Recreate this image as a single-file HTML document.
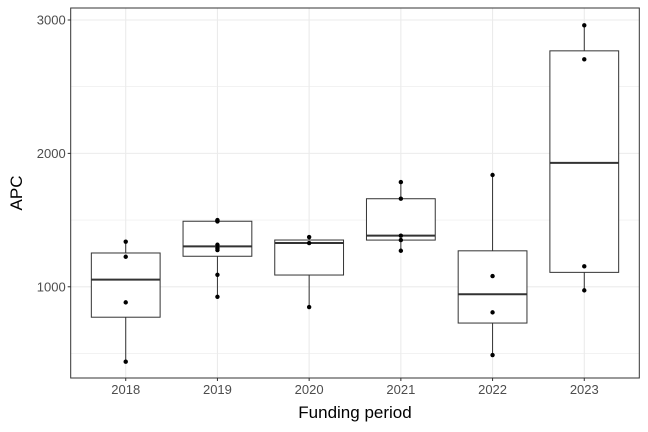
<!DOCTYPE html>
<html><head><meta charset="utf-8"><style>
body{margin:0;background:#fff;}
svg{display:block;font-family:"Liberation Sans",sans-serif;}
</style></head><body>
<svg id="chart" width="648" height="432"></svg>
<script>
const categories=["2018","2019","2020","2021","2022","2023"];
const values2018=[438,883,1225,1338];
const values2019=[925,1090,1275,1290,1315,1490,1495,1500];
const values2020=[848,1328,1373];
const values2021=[1270,1350,1383,1660,1785];
const values2022=[488,808,1080,1838];
const values2023=[973,1153,2705,2960];
const seriesValues=[values2018,values2019,values2020,values2021,values2022,values2023];
const yTicks=[1000,2000,3000];
const yMinor=[500,1500,2500];
const NS="http://www.w3.org/2000/svg";
const svg=document.getElementById('chart');
const L=70.7,R=639.3,T=8,B=378;
const yMin=316,yMax=3090;
const ys=v=>B-(v-yMin)/(yMax-yMin)*(B-T);
const step=(R-L)/6.2;
const xs=i=>L+(i+0.6)*step;
function mk(tag,attrs,parent){const e=document.createElementNS(NS,tag);for(const k in attrs)e.setAttribute(k,attrs[k]);(parent||svg).appendChild(e);return e;}
function q(a,p){const s=[...a].sort((x,y)=>x-y);const h=(s.length-1)*p;const lo=Math.floor(h);return s[lo]+(h-lo)*((s[Math.min(lo+1,s.length-1)])-s[lo]);}
let g;
g=mk('g',{});
yMinor.forEach(v=>{const l=mk('line',{x1:L,x2:R,y1:ys(v),y2:ys(v),stroke:'#ebebeb','stroke-width':0.6},g);});
yTicks.forEach(v=>{const l=mk('line',{x1:L,x2:R,y1:ys(v),y2:ys(v),stroke:'#ebebeb','stroke-width':1.1},g);});
categories.forEach((c,i)=>{const l=mk('line',{x1:xs(i),x2:xs(i),y1:T,y2:B,stroke:'#ebebeb','stroke-width':1.1},g);});
seriesValues.forEach((vals,i)=>{
  const bg=mk('g',{});
  
  
  const q1=q(vals,0.25),md=q(vals,0.5),q3=q(vals,0.75),iqr=q3-q1;
  const lo=Math.min(...vals.filter(v=>v>=q1-1.5*iqr)),hi=Math.max(...vals.filter(v=>v<=q3+1.5*iqr));
  const x=xs(i),w=step*0.75;
  mk('line',{x1:x,x2:x,y1:ys(hi),y2:ys(q3),stroke:'#333','stroke-width':1},bg);
  mk('line',{x1:x,x2:x,y1:ys(q1),y2:ys(lo),stroke:'#333','stroke-width':1},bg);
  mk('rect',{x:x-w/2,y:ys(q3),width:w,height:ys(q1)-ys(q3),fill:'#fff',stroke:'#333','stroke-width':1},bg);
  mk('line',{x1:x-w/2,x2:x+w/2,y1:ys(md),y2:ys(md),stroke:'#333','stroke-width':2},bg);
  vals.forEach(v=>{const p=mk('circle',{cx:x,cy:ys(v),r:2.2,fill:'#000'},bg);});
});
const fr=mk('rect',{x:L,y:T,width:R-L,height:B-T,fill:'none',stroke:'#333','stroke-width':1});

yTicks.forEach(v=>{
  mk('line',{x1:L-3,x2:L,y1:ys(v),y2:ys(v),stroke:'#333'});
  const t=mk('text',{x:L-5,y:ys(v)+4.5,'text-anchor':'end','font-size':13,fill:'#4d4d4d'});t.textContent=v;
  
});
categories.forEach((c,i)=>{
  mk('line',{x1:xs(i),x2:xs(i),y1:B,y2:B+3,stroke:'#333'});
  const t=mk('text',{x:xs(i),y:B+16,'text-anchor':'middle','font-size':13,fill:'#4d4d4d'});t.textContent=c;
  
});
let t=mk('text',{x:(L+R)/2,y:418,'text-anchor':'middle','font-size':17,fill:'#000'});t.textContent='Funding period';

t=mk('text',{x:22,y:(T+B)/2,'text-anchor':'middle','font-size':17,fill:'#000',transform:'rotate(-90 22 '+((T+B)/2)+')'});t.textContent='APC';

</script>
</body></html>
